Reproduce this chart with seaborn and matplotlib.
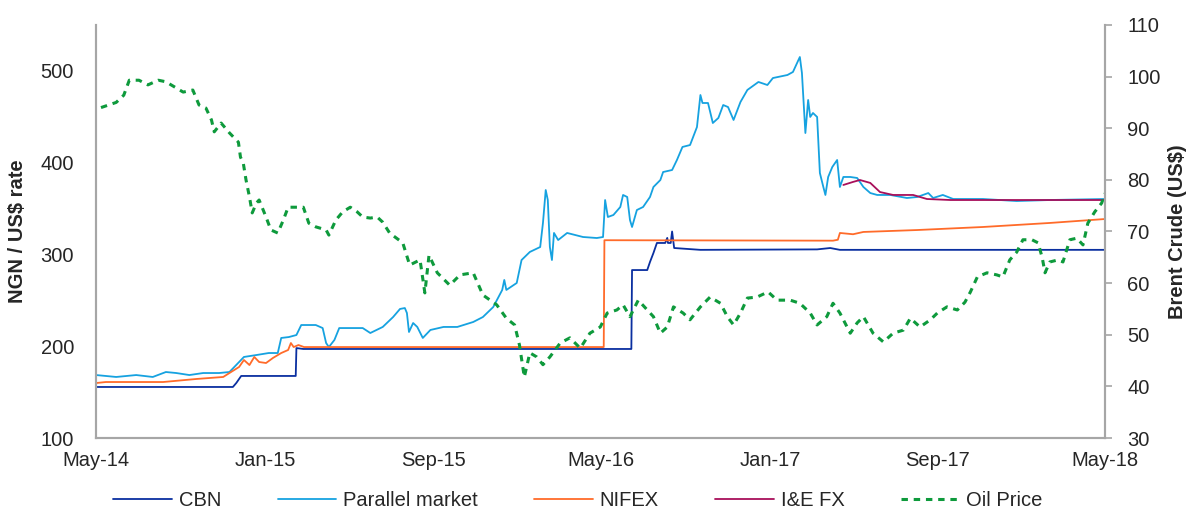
import pandas as pd
import matplotlib
matplotlib.use("Agg")
import matplotlib.pyplot as plt
import matplotlib.dates as mdates
import seaborn as sns

# CBN official rate (NGN per US$)
cbn_dates = ["2014-05-01", "2014-11-15", "2014-11-20", "2014-11-27", "2015-02-14",
             "2015-02-15", "2015-02-25", "2016-06-14", "2016-06-15", "2016-07-07",
             "2016-07-11", "2016-07-16", "2016-07-21", "2016-08-02", "2016-08-05",
             "2016-08-06", "2016-08-10", "2016-08-12", "2016-08-15", "2016-09-22",
             "2017-03-10", "2017-03-29", "2017-04-12", "2018-05-01"]
cbn_values = [155.6, 155.6, 160.0, 167.6, 167.6,
              198.0, 197.0, 197.0, 283.0, 283.0,
              291.8, 301.6, 312.5, 312.5, 318.0,
              312.5, 312.5, 325.0, 307.0, 305.0,
              305.5, 307.0, 305.0, 305.0]

# Parallel market rate
par_dates = ["2014-05-01", "2014-05-30", "2014-06-28", "2014-07-22", "2014-08-10",
             "2014-08-25", "2014-09-13", "2014-10-03", "2014-10-26", "2014-11-10",
             "2014-11-24", "2014-12-01", "2014-12-19", "2015-01-06", "2015-01-19",
             "2015-01-24", "2015-02-04", "2015-02-15", "2015-02-22", "2015-03-15",
             "2015-03-25", "2015-03-30", "2015-04-03", "2015-04-11", "2015-04-18",
             "2015-05-22", "2015-06-02", "2015-06-20", "2015-07-05", "2015-07-15",
             "2015-07-22", "2015-07-25", "2015-07-28", "2015-08-03", "2015-08-09",
             "2015-08-17", "2015-08-28", "2015-09-16", "2015-10-06", "2015-10-29",
             "2015-11-12", "2015-11-27", "2015-12-10", "2015-12-13", "2015-12-16",
             "2015-12-31", "2016-01-07", "2016-01-19", "2016-02-03", "2016-02-07",
             "2016-02-11", "2016-02-14", "2016-02-17", "2016-02-20", "2016-02-23",
             "2016-02-29", "2016-03-13", "2016-04-05", "2016-04-25", "2016-05-04",
             "2016-05-07", "2016-05-11", "2016-05-19", "2016-05-29", "2016-06-02",
             "2016-06-08", "2016-06-12", "2016-06-15", "2016-06-22", "2016-07-01",
             "2016-07-11", "2016-07-16", "2016-07-26", "2016-07-30", "2016-08-12",
             "2016-08-19", "2016-08-27", "2016-09-07", "2016-09-17", "2016-09-22",
             "2016-09-25", "2016-10-03", "2016-10-10", "2016-10-18", "2016-10-25",
             "2016-11-01", "2016-11-09", "2016-11-19", "2016-11-29", "2016-12-15",
             "2016-12-28", "2017-01-05", "2017-01-26", "2017-02-03", "2017-02-11",
             "2017-02-13", "2017-02-16", "2017-02-21", "2017-02-25", "2017-02-28",
             "2017-03-04", "2017-03-10", "2017-03-14", "2017-03-19", "2017-03-22",
             "2017-03-26", "2017-04-01", "2017-04-08", "2017-04-12", "2017-04-17",
             "2017-04-27", "2017-05-07", "2017-05-16", "2017-05-26", "2017-06-05",
             "2017-06-24", "2017-07-18", "2017-08-02", "2017-08-18", "2017-08-25",
             "2017-09-08", "2017-09-23", "2017-11-05", "2017-12-24", "2018-02-10",
             "2018-05-01"]
par_values = [168.6, 166.5, 168.6, 166.5, 171.9,
              170.8, 168.6, 170.8, 170.8, 171.9,
              182.8, 188.3, 190.4, 192.6, 192.6,
              209.0, 210.0, 212.2, 223.1, 223.1,
              219.8, 203.5, 199.1, 206.8, 219.8,
              219.8, 214.4, 221.0, 231.8, 240.6,
              241.6, 236.2, 215.5, 225.3, 221.0,
              209.0, 217.7, 221.0, 221.0, 226.4,
              231.8, 242.7, 261.3, 272.2, 261.3,
              268.9, 293.9, 302.7, 308.1, 334.3,
              370.2, 359.3, 308.1, 293.9, 323.4,
              315.7, 323.4, 319.0, 317.9, 319.0,
              359.3, 340.8, 343.0, 351.7, 364.8,
              362.6, 337.5, 329.9, 348.4, 351.7,
              362.6, 373.5, 381.1, 389.8, 392.0,
              402.9, 417.1, 419.2, 438.8, 473.7,
              465.0, 465.0, 443.2, 448.7, 462.8,
              460.6, 446.5, 466.1, 479.2, 487.9,
              484.6, 492.2, 495.5, 498.8, 511.9,
              515.1, 497.7, 432.3, 468.3, 449.8,
              454.1, 449.8, 388.7, 373.5, 364.8,
              384.4, 395.3, 402.9, 373.5, 384.4,
              384.4, 383.3, 373.5, 366.9, 364.8,
              364.8, 361.5, 362.6, 366.9, 361.5,
              364.8, 360.4, 360.4, 358.2, 359.3,
              360.4]

# NIFEX rate
nif_dates = ["2014-05-01", "2014-05-15", "2014-08-06", "2014-09-23", "2014-11-01",
             "2014-11-10", "2014-11-24", "2014-12-01", "2014-12-09", "2014-12-16",
             "2014-12-23", "2015-01-02", "2015-01-12", "2015-01-24", "2015-02-03",
             "2015-02-07", "2015-02-11", "2015-02-18", "2015-02-26", "2016-05-05",
             "2016-05-06", "2017-04-02", "2017-04-09", "2017-04-12", "2017-05-01",
             "2017-05-16", "2017-08-02", "2017-11-05", "2018-02-10", "2018-05-01"]
nif_values = [159.9, 161.0, 161.0, 164.3, 166.5,
              170.8, 177.4, 185.0, 179.5, 188.3,
              182.8, 181.7, 187.2, 192.6, 195.9,
              203.5, 199.1, 201.3, 199.1, 199.1,
              315.5, 315.0, 316.0, 323.4, 322.0,
              324.5, 326.6, 329.9, 334.3, 338.6]

# I&E FX window
ie_dates = ["2017-04-17", "2017-05-01", "2017-05-11", "2017-05-26", "2017-06-09",
            "2017-06-28", "2017-07-27", "2017-08-16", "2017-09-19", "2018-05-01"]
ie_values = [375.7, 379.0, 381.1, 377.9, 368.0,
             364.8, 364.8, 360.4, 359.3, 359.3]

# Brent crude (US$)
oil_dates = ["2014-05-08", "2014-05-30", "2014-06-10", "2014-06-18", "2014-07-02",
             "2014-07-15", "2014-07-30", "2014-08-10", "2014-08-25", "2014-09-04",
             "2014-09-18", "2014-09-27", "2014-10-07", "2014-10-15", "2014-10-19",
             "2014-10-29", "2014-11-10", "2014-11-23", "2014-11-26", "2014-11-30",
             "2014-12-04", "2014-12-09", "2014-12-13", "2014-12-19", "2014-12-23",
             "2015-01-02", "2015-01-09", "2015-01-19", "2015-01-27", "2015-02-03",
             "2015-02-15", "2015-02-25", "2015-03-05", "2015-03-15", "2015-03-30",
             "2015-04-03", "2015-04-13", "2015-04-23", "2015-05-04", "2015-05-14",
             "2015-05-22", "2015-06-02", "2015-06-12", "2015-06-20", "2015-06-30",
             "2015-07-19", "2015-07-29", "2015-08-13", "2015-08-20", "2015-08-26",
             "2015-09-07", "2015-09-25", "2015-10-10", "2015-10-29", "2015-11-12",
             "2015-12-02", "2015-12-16", "2015-12-28", "2016-01-04", "2016-01-11",
             "2016-01-19", "2016-01-29", "2016-02-07", "2016-02-17", "2016-03-03",
             "2016-03-17", "2016-04-01", "2016-04-15", "2016-04-30", "2016-05-10",
             "2016-05-24", "2016-06-02", "2016-06-12", "2016-06-24", "2016-07-07",
             "2016-07-16", "2016-07-26", "2016-08-05", "2016-08-14", "2016-08-28",
             "2016-09-07", "2016-09-22", "2016-10-06", "2016-10-21", "2016-10-31",
             "2016-11-09", "2016-11-19", "2016-11-29", "2016-12-13", "2016-12-29",
             "2017-01-11", "2017-01-30", "2017-02-13", "2017-02-28", "2017-03-10",
             "2017-03-24", "2017-04-02", "2017-04-12", "2017-04-27", "2017-05-07",
             "2017-05-16", "2017-05-30", "2017-06-14", "2017-06-28", "2017-07-13",
             "2017-07-23", "2017-08-06", "2017-08-21", "2017-08-31", "2017-09-14",
             "2017-09-29", "2017-10-10", "2017-10-18", "2017-10-28", "2017-11-11",
             "2017-11-25", "2017-12-04", "2017-12-14", "2017-12-24", "2018-01-02",
             "2018-01-15", "2018-01-24", "2018-01-30", "2018-02-03", "2018-02-10",
             "2018-02-22", "2018-03-01", "2018-03-11", "2018-03-21", "2018-03-30",
             "2018-04-06", "2018-04-16", "2018-04-26", "2018-05-01"]
oil_values = [94.0, 95.0, 96.4, 99.3, 99.3,
              98.4, 99.3, 99.0, 97.8, 97.0,
              97.4, 94.5, 93.9, 91.6, 89.3,
              91.0, 89.1, 87.3, 84.4, 83.3,
              80.0, 76.7, 73.6, 75.5, 76.1,
              72.8, 70.3, 69.7, 72.2, 74.7,
              74.7, 74.7, 71.6, 70.9, 70.3,
              69.3, 72.2, 73.8, 74.7, 73.8,
              72.8, 72.6, 72.8, 71.8, 69.7,
              67.8, 63.5, 64.5, 58.1, 65.4,
              62.0, 59.6, 61.6, 62.0, 57.7,
              55.8, 53.2, 51.9, 48.0, 41.8,
              46.5, 45.7, 44.2, 45.7, 48.4,
              49.4, 47.4, 50.3, 51.5, 54.2,
              54.8, 55.8, 53.5, 56.7, 54.8,
              53.5, 50.3, 51.5, 55.4, 54.2,
              52.9, 55.4, 57.3, 56.1, 53.5,
              51.9, 54.2, 57.1, 57.3, 58.3,
              56.7, 56.7, 56.1, 54.2, 51.9,
              53.5, 56.1, 54.2, 50.3, 52.3,
              53.5, 50.3, 48.6, 50.3, 50.9,
              53.2, 51.5, 52.9, 54.2, 55.4,
              54.8, 56.3, 58.3, 61.2, 62.0,
              61.6, 61.2, 64.5, 66.0, 68.4,
              68.4, 67.8, 64.9, 62.0, 64.1,
              64.5, 64.1, 68.4, 68.7, 67.4,
              71.6, 73.8, 75.5, 77.4]

tick_dates = ["2014-05-01", "2015-01-01", "2015-09-01", "2016-05-01",
              "2017-01-01", "2017-09-01", "2018-05-01"]

sns.set_style("white")
plt.rcParams["font.family"] = ["Liberation Sans", "DejaVu Sans"]
plt.rcParams["ytick.major.pad"] = 16

grey = "#A6A6A6"
fs = 14.5
fig = plt.figure(figsize=(11.87, 5.15), dpi=100)
ax = fig.add_axes([0.081, 0.1495, 0.85, 0.802])
ax2 = ax.twinx()

sns.lineplot(x=pd.to_datetime(cbn_dates), y=cbn_values, ax=ax, color="#0A2FA0",
             lw=1.3, label="CBN", legend=False)
sns.lineplot(x=pd.to_datetime(par_dates), y=par_values, ax=ax, color="#16A2E0",
             lw=1.3, label="Parallel market", legend=False)
sns.lineplot(x=pd.to_datetime(nif_dates), y=nif_values, ax=ax, color="#FF6B2A",
             lw=1.3, label="NIFEX", legend=False)
sns.lineplot(x=pd.to_datetime(ie_dates), y=ie_values, ax=ax, color="#A80F5A",
             lw=1.3, label="I&E FX", legend=False)
sns.lineplot(x=pd.to_datetime(oil_dates), y=oil_values, ax=ax2, color="#0E9A3C",
             lw=2.2, label="Oil Price", legend=False)
ax2.get_lines()[0].set_dashes((2.1, 1.9))

ax.set_ylim(100, 550)
ax.set_yticks([100, 200, 300, 400, 500])
ax2.set_ylim(30, 110)
ax2.set_yticks(range(30, 111, 10))
ax.set_xlim(pd.Timestamp("2014-05-01"), pd.Timestamp("2018-05-01"))
ax.set_xticks(pd.to_datetime(tick_dates))
ax.xaxis.set_major_formatter(mdates.DateFormatter("%b-%y"))

for a in (ax, ax2):
    a.spines["top"].set_visible(False)
    for s in ("left", "right", "bottom"):
        a.spines[s].set_color(grey)
        a.spines[s].set_linewidth(1.5)
    a.set_xlabel("")

ax.tick_params(axis="y", which="major", length=0, pad=16, labelsize=fs)
ax.tick_params(axis="x", which="major", length=0, pad=9, labelsize=fs)
ax2.tick_params(axis="y", which="major", length=5, width=1.2, color=grey, pad=11,
                labelsize=fs)

ax.set_ylabel("NGN / US$ rate", fontsize=fs, fontweight="bold", labelpad=10)
ax2.set_ylabel("Brent Crude (US$)", fontsize=fs, fontweight="bold", labelpad=5)

handles = ax.get_lines() + ax2.get_lines()
fig.legend(handles=handles, labels=[h.get_label() for h in handles],
           loc="lower center", bbox_to_anchor=(0.487, -0.025), ncol=5,
           frameon=False, fontsize=fs, handlelength=2.9, columnspacing=2.8,
           handletextpad=0.35)

fig.savefig("out.png", dpi=100)
